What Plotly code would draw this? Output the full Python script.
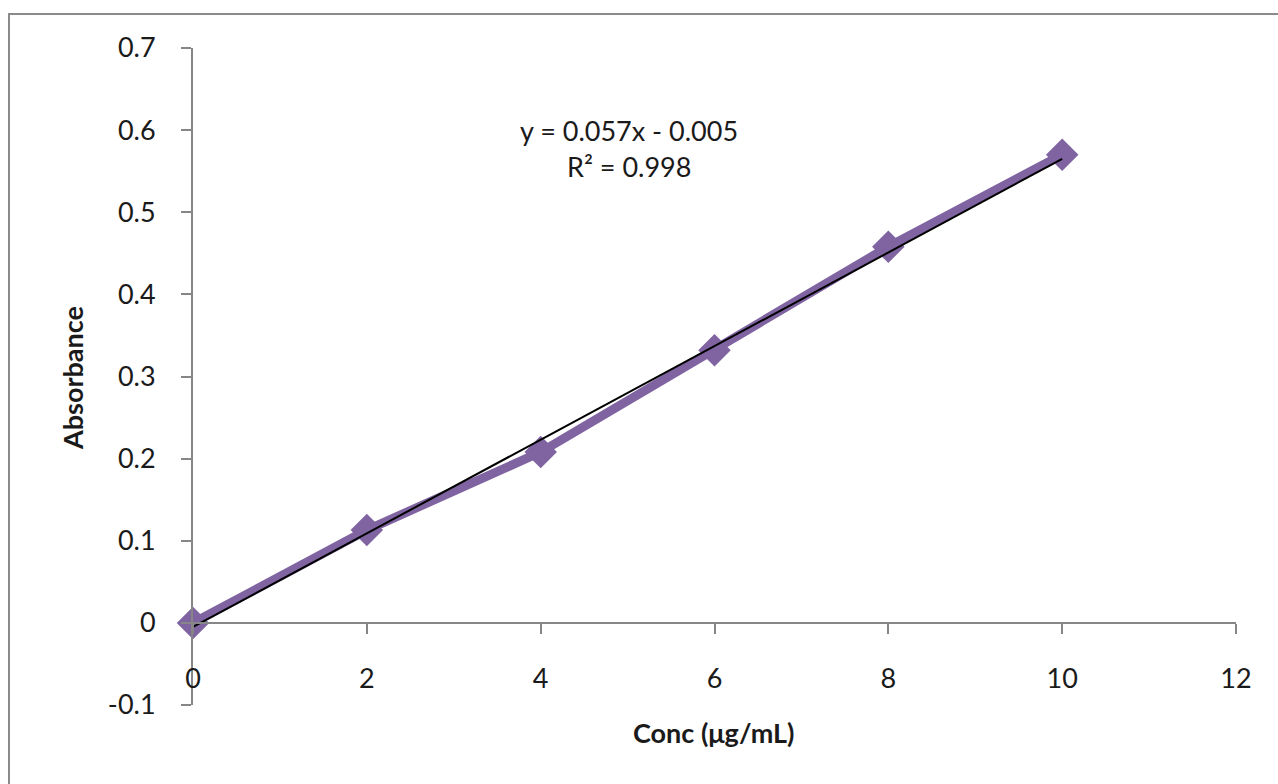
import numpy as np
import plotly.graph_objects as go

conc = [0, 2, 4, 6, 8, 10]
absorbance = [0.0, 0.113, 0.208, 0.332, 0.458, 0.570]
slope = 0.057
intercept = -0.005
eq_text = "y = 0.057x - 0.005"
r2_text = "R² = 0.998"
x_title = "Conc (μg/mL)"
y_title = "Absorbance"
x_ticks = [0, 2, 4, 6, 8, 10, 12]
y_ticks = [-0.1, 0, 0.1, 0.2, 0.3, 0.4, 0.5, 0.6, 0.7]
y_ticklabels = ["-0.1", "0", "0.1", "0.2", "0.3", "0.4", "0.5", "0.6", "0.7"]

FONT = "Lato"
FS = 27
PURPLE = "#8064A2"
AXIS = "#868686"
TXT = "#1a1a1a"

trend_x = np.array([conc[0], conc[-1]], dtype=float)
trend_y = slope * trend_x + intercept

fig = go.Figure()
fig.add_trace(go.Scatter(
    x=conc, y=absorbance, mode="lines+markers",
    line=dict(color=PURPLE, width=9),
    marker=dict(symbol="diamond", size=25, color=PURPLE),
    showlegend=False, cliponaxis=False,
))
fig.add_trace(go.Scatter(
    x=trend_x, y=trend_y, mode="lines",
    line=dict(color="black", width=2),
    showlegend=False, cliponaxis=False,
))

W, H = 1278, 784
L, R, T, B = 193, 42, 48, 79
pw = W - L - R
ph = H - T - B
y_range = [-0.1, 0.7]
x_pos = (0 - y_range[0]) / (y_range[1] - y_range[0])

def px_x(px):
    return (px - L) / pw

def px_y(py):
    return (H - B - py) / ph

def note(text, cx, cy, angle=0):
    return dict(text=text, x=px_x(cx), y=px_y(cy), xref="paper", yref="paper",
                xanchor="center", yanchor="middle", textangle=angle,
                showarrow=False, font=dict(family=FONT, size=FS, color=TXT))

fig.update_layout(
    width=W, height=H,
    margin=dict(l=L, r=R, t=T, b=B),
    paper_bgcolor="white", plot_bgcolor="white",
    font=dict(family=FONT, size=FS, color=TXT),
    xaxis=dict(
        range=[0, 12], tickvals=x_ticks,
        showgrid=False, zeroline=False,
        showline=True, linecolor=AXIS, linewidth=2,
        ticks="outside", ticklen=10, tickwidth=2, tickcolor=AXIS,
        anchor="free", position=x_pos,
        ticklabelstandoff=22,
        tickfont=dict(family=FONT, size=FS, color=TXT),
    ),
    yaxis=dict(
        range=y_range, tickvals=y_ticks, ticktext=y_ticklabels,
        showgrid=False, zeroline=False,
        showline=True, linecolor=AXIS, linewidth=2,
        ticks="outside", ticklen=10, tickwidth=2, tickcolor=AXIS,
        ticklabelstandoff=20,
        tickfont=dict(family=FONT, size=FS, color=TXT),
    ),
    shapes=[dict(
        type="rect", xref="paper", yref="paper",
        x0=px_x(9), x1=px_x(1300), y0=px_y(14), y1=px_y(800),
        line=dict(color="#8a8a8a", width=2), fillcolor="rgba(0,0,0,0)",
        layer="below",
    )],
    annotations=[
        note(eq_text, 629, 130),
        note(r2_text, 629, 166),
        note("<b>" + x_title + "</b>", 713, 732),
        note("<b>" + y_title + "</b>", 72, 378, -90),
    ],
)

fig.write_html("out.html")
